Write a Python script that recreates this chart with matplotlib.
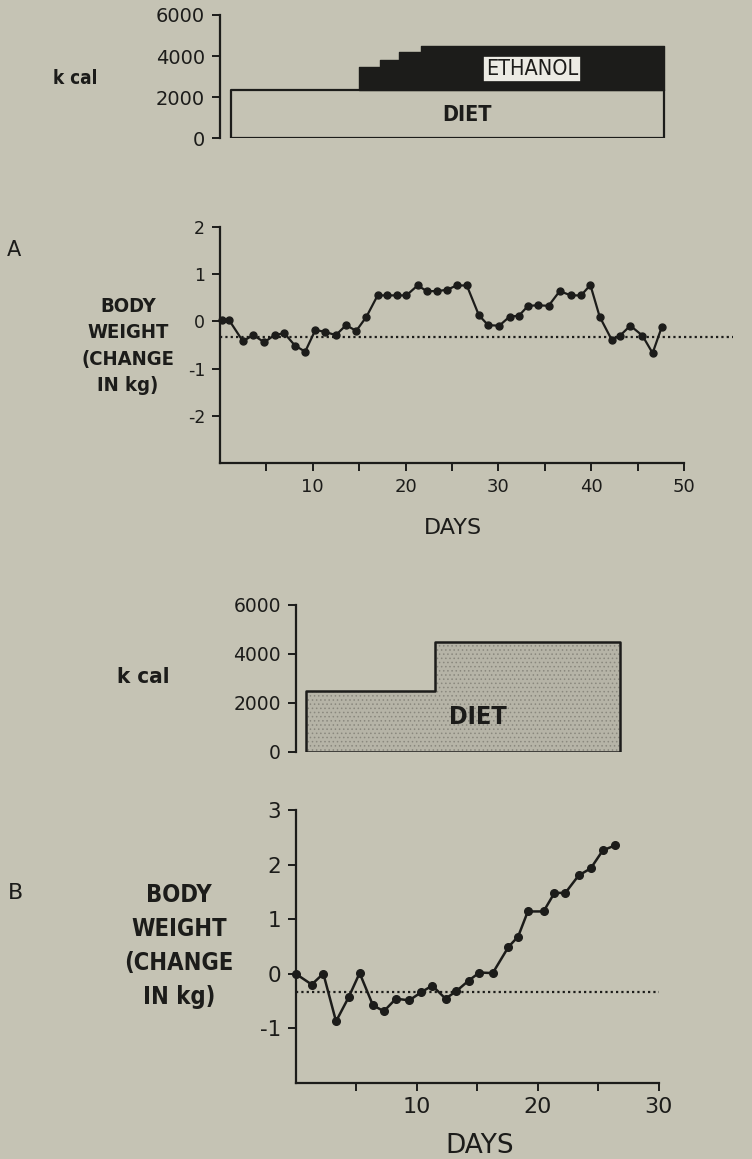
import numpy as np
import matplotlib.pyplot as plt

plt.rcParams['axes.unicode_minus'] = False
plt.rcParams['font.family'] = ['DejaVu Sans']
plt.rcParams['hatch.linewidth'] = 0.6

bg = '#c5c3b4'
ink = '#1c1c1a'
narrow = dict(family=['DejaVu Sans'], fontstretch='condensed')

# ---- panel A: diet + ethanol ----
a_diet_days = [1.2, 47.8]
a_diet_kcal = [2350, 2350]
a_eth_days = [15.0, 17.3, 19.3, 21.7, 47.8]
a_eth_kcal = [3450, 3800, 4200, 4500, 4500]

a_days = [0.2, 1.0, 2.5, 3.6, 4.8, 5.9, 6.95, 8.1, 9.2, 10.3, 11.3, 12.5, 13.6,
          14.7, 15.8, 17.0, 18.0, 19.1, 20.1, 21.3, 22.3, 23.4, 24.5, 25.5,
          26.6, 27.9, 28.9, 30.1, 31.2, 32.2, 33.2, 34.3, 35.4, 36.6, 37.8,
          38.9, 39.9, 40.9, 42.2, 43.1, 44.2, 45.5, 46.6, 47.6]
a_weight = [0.03, 0.03, -0.42, -0.29, -0.44, -0.29, -0.25, -0.51, -0.64, -0.18,
            -0.22, -0.29, -0.08, -0.20, 0.10, 0.55, 0.55, 0.55, 0.55, 0.76,
            0.64, 0.64, 0.67, 0.76, 0.76, 0.13, -0.08, -0.09, 0.10, 0.12,
            0.33, 0.34, 0.33, 0.64, 0.55, 0.55, 0.77, 0.10, -0.39, -0.30,
            -0.09, -0.30, -0.67, -0.11]
a_base = -0.34
a_base_span = [0, 55.3]

# ---- panel B: diet only ----
b_diet_days = [0.85, 11.5, 26.8]
b_diet_kcal = [2500, 4500, 4500]

b_days = [0, 1.34, 2.3, 3.35, 4.4, 5.3, 6.4, 7.3, 8.3, 9.4, 10.4, 11.3, 12.4,
          13.3, 14.3, 15.2, 16.3, 17.6, 18.4, 19.2, 20.5, 21.4, 22.3, 23.4,
          24.4, 25.4, 26.4]
b_weight = [0, -0.20, 0, -0.875, -0.43, 0.01, -0.58, -0.69, -0.46, -0.49,
            -0.34, -0.22, -0.46, -0.32, -0.13, 0.02, 0.01, 0.49, 0.68, 1.14,
            1.14, 1.48, 1.48, 1.80, 1.93, 2.26, 2.35]
b_base = -0.34
b_base_span = [0, 30]

kcal_ticks = [0, 2000, 4000, 6000]
a_wt_ticks = [-2, -1, 0, 1, 2]
b_wt_ticks = [-1, 0, 1, 2, 3]

W, H = 752, 1159
fig = plt.figure(figsize=(W / 100, H / 100), dpi=100, facecolor=bg)


def box(x0, x1, ytop, ybot):
    return [x0 / W, 1 - ybot / H, (x1 - x0) / W, (ybot - ytop) / H]


def style(ax, show_x, size_y, size_x=None):
    ax.set_facecolor('none')
    for s in ['top', 'right']:
        ax.spines[s].set_visible(False)
    ax.spines['left'].set_linewidth(1.6)
    ax.spines['left'].set_color(ink)
    if show_x:
        ax.spines['bottom'].set_linewidth(1.6)
        ax.spines['bottom'].set_color(ink)
        ax.tick_params(axis='x', labelsize=size_x)
    else:
        ax.spines['bottom'].set_visible(False)
        ax.set_xticks([])
    ax.tick_params(direction='out', length=5.5, width=1.4, color=ink,
                   labelcolor=ink, pad=5)
    ax.tick_params(axis='y', labelsize=size_y)


ax_ka = fig.add_axes(box(219.7, 684.2, 15, 138.3))
ax_wa = fig.add_axes(box(219.7, 684.2, 226.8, 463.3))
ax_kb = fig.add_axes(box(295.5, 658.5, 605, 751.7))
ax_wb = fig.add_axes(box(295.5, 658.5, 810, 1082.7))

# kcal A
ax_ka.fill_between(a_eth_days, a_diet_kcal[0], a_eth_kcal, step='post',
                   facecolor=ink, edgecolor=ink, lw=1)
ax_ka.fill_between(a_diet_days, 0, a_diet_kcal, facecolor='none',
                   edgecolor=ink, lw=1.6)
ax_ka.text(26.6, 1134, 'DIET', ha='center', va='center', weight='bold',
           fontsize=15.5, color=ink, **narrow)
ax_ka.text(33.6, 3372, 'ETHANOL', ha='center', va='center', fontsize=15.5,
           color=ink, bbox=dict(boxstyle='square,pad=0.12', fc='#ecebe4',
                                ec=ink, lw=1.2), **narrow)
ax_ka.set_xlim(0, 50)
ax_ka.set_ylim(0, 6000)
ax_ka.set_yticks(kcal_ticks)
style(ax_ka, False, 14)

# body weight A
ax_wa.plot(a_base_span, [a_base, a_base], color=ink, lw=1.6,
           ls=(0, (1, 1.4)), clip_on=False)
ax_wa.plot(a_days, a_weight, color=ink, lw=1.6, marker='o', ms=5, clip_on=False)
ax_wa.set_xlim(0, 50)
ax_wa.set_ylim(-3, 2)
ax_wa.set_yticks(a_wt_ticks)
xt = np.arange(5, 51, 5)
ax_wa.set_xticks(xt)
ax_wa.set_xticklabels([str(t) if t % 10 == 0 else '' for t in xt])
style(ax_wa, True, 12.5, 13)

# kcal B
ax_kb.fill_between(b_diet_days, 0, b_diet_kcal, step='post',
                   facecolor='#b6b4a7', edgecolor='#8a887e', hatch='....', lw=0)
ax_kb.fill_between(b_diet_days, 0, b_diet_kcal, step='post', facecolor='none',
                   edgecolor=ink, lw=1.8)
ax_kb.text(15.1, 1432, 'DIET', ha='center', va='center', weight='bold',
           fontsize=18, color=ink, **narrow)
ax_kb.set_xlim(0, 30)
ax_kb.set_ylim(0, 6000)
ax_kb.set_yticks(kcal_ticks)
style(ax_kb, False, 13.5)

# body weight B
ax_wb.plot(b_base_span, [b_base, b_base], color=ink, lw=1.6,
           ls=(0, (1, 1.4)), clip_on=False)
ax_wb.plot(b_days, b_weight, color=ink, lw=1.8, marker='o', ms=5.5, clip_on=False)
ax_wb.set_xlim(0, 30)
ax_wb.set_ylim(-2, 3)
ax_wb.set_yticks(b_wt_ticks)
xt = np.arange(5, 31, 5)
ax_wb.set_xticks(xt)
ax_wb.set_xticklabels([str(t) if t % 10 == 0 else '' for t in xt])
style(ax_wb, True, 15.5, 16)

# labels
fig.text(14 / W, 1 - 250 / H, 'A', fontsize=15, ha='center', va='center', color=ink)
fig.text(15 / W, 1 - 893 / H, 'B', fontsize=16, ha='center', va='center', color=ink)
fig.text(75 / W, 1 - 79 / H, 'k cal', fontsize=13.5, ha='center', va='center',
         weight='bold', color=ink, **narrow)
fig.text(143 / W, 1 - 677 / H, 'k cal', fontsize=16, ha='center', va='center',
         weight='bold', color=ink, **narrow)
fig.text(128 / W, 1 - 346 / H, 'BODY\nWEIGHT\n(CHANGE\nIN kg)', fontsize=14.5,
         ha='center', va='center', multialignment='center', weight='bold',
         linespacing=1.5, color=ink, **narrow)
fig.text(179 / W, 1 - 946 / H, 'BODY\nWEIGHT\n(CHANGE\nIN kg)', fontsize=17,
         ha='center', va='center', multialignment='center', weight='bold',
         linespacing=1.53, color=ink, **narrow)
fig.text(453 / W, 1 - 528 / H, 'DAYS', fontsize=16, ha='center', va='center', color=ink)
fig.text(480 / W, 1 - 1146 / H, 'DAYS', fontsize=19, ha='center', va='center', color=ink)

fig.savefig('out.png', dpi=100, facecolor=bg)
